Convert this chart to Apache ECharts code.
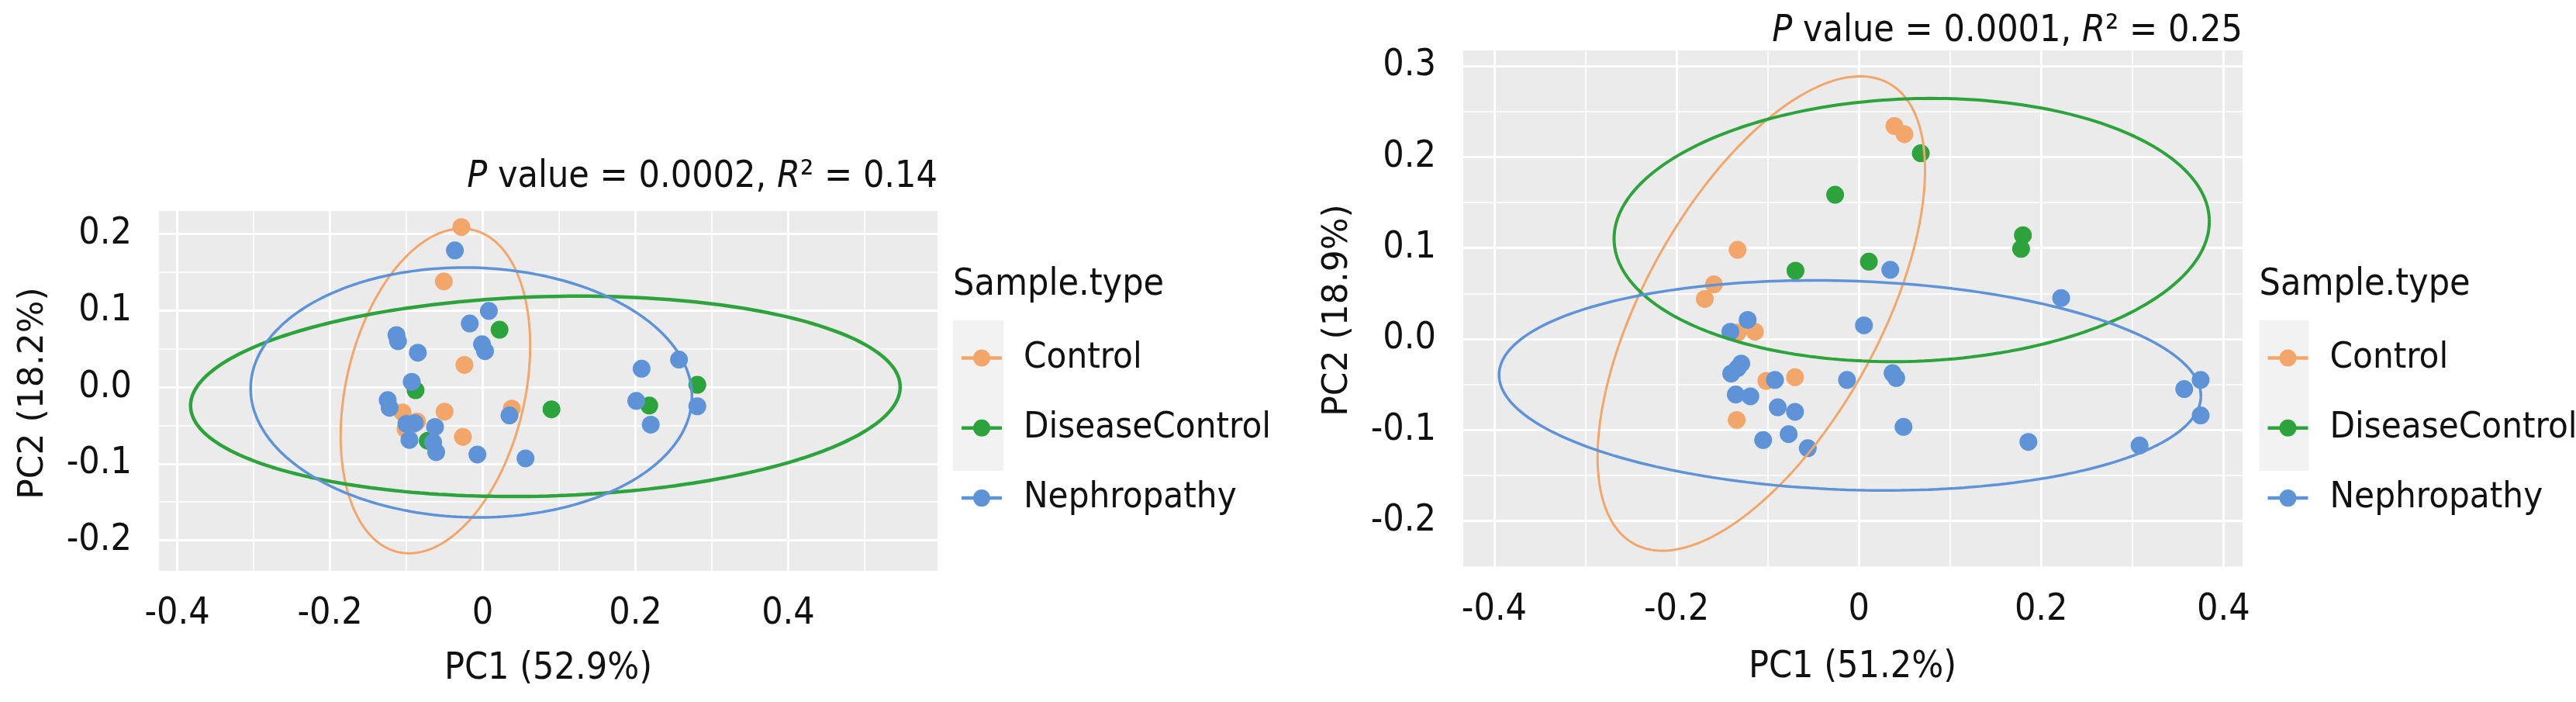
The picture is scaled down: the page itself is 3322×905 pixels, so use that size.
<!DOCTYPE html>
<html>
<head>
<meta charset="utf-8">
<script src="https://cdn.jsdelivr.net/npm/echarts@6/dist/echarts.min.js"></script>
<style>
  html, body { margin: 0; padding: 0; background: #fff; }
  #main { width: 3322px; height: 905px; }
</style>
</head>
<body>
<div id="main"></div>
<script>
// groups and colours
const groups = ['Control', 'DiseaseControl', 'Nephropathy']
const colors = ['#F3A66A', '#2CA33B', '#5E93D8']

// left panel points [PC1, PC2]
const leftControl = [[-0.028, 0.209], [-0.051, 0.138], [-0.024, 0.029], [-0.105, -0.033], [-0.050, -0.032],
  [-0.026, -0.065], [0.038, -0.028], [-0.086, -0.045], [-0.101, -0.055], [-0.094, -0.050]]
const leftDisease = [[0.022, 0.075], [-0.088, -0.004], [-0.072, -0.070], [0.090, -0.029], [0.281, 0.003], [0.218, -0.024]]
const leftNephro = [[-0.0365, 0.1785], [0.008, 0.0995], [-0.017, 0.083], [-0.113, 0.068], [-0.111, 0.060],
  [-0.001, 0.056], [0.003, 0.047], [-0.085, 0.045], [-0.093, 0.007], [-0.1245, -0.017], [-0.122, -0.027],
  [-0.100, -0.048], [-0.089, -0.047], [-0.0625, -0.052], [-0.096, -0.069], [-0.065, -0.072], [-0.061, -0.085],
  [-0.007, -0.088], [0.056, -0.093], [0.035, -0.037], [0.208, 0.024], [0.257, 0.036], [0.201, -0.018],
  [0.281, -0.025], [0.220, -0.049]]

// right panel points [PC1, PC2]
const rightControl = [[0.039, 0.234], [0.050, 0.225], [-0.133, 0.098], [-0.159, 0.060], [-0.169, 0.044],
  [-0.133, 0.007], [-0.114, 0.008], [-0.1015, -0.046], [-0.070, -0.042], [-0.134, -0.089]]
const rightDisease = [[0.068, 0.204], [-0.026, 0.1585], [0.011, 0.085], [-0.0695, 0.075], [0.180, 0.114], [0.178, 0.099]]
const rightNephro = [[0.0345, 0.076], [-0.122, 0.021], [-0.141, 0.008], [0.0056, 0.015], [-0.129, -0.027],
  [-0.133, -0.032], [-0.140, -0.038], [-0.092, -0.045], [-0.013, -0.045], [0.037, -0.0375], [0.041, -0.043],
  [-0.135, -0.061], [-0.119, -0.063], [-0.089, -0.075], [-0.070, -0.080], [0.049, -0.0965], [-0.105, -0.111],
  [-0.077, -0.1045], [-0.056, -0.120], [0.222, 0.045], [0.375, -0.045], [0.357, -0.055], [0.375, -0.084],
  [0.186, -0.113], [0.308, -0.117]]

// confidence ellipses: [cx, cy, semi-major, semi-minor, angle deg]
const leftEllipses = [[-0.062, -0.005, 0.216, 0.117, 76.85], [0.082, -0.012, 0.4648, 0.1302, 1.64], [-0.015, -0.007, 0.289, 0.163, -1.5]]
const rightEllipses = [[-0.107, 0.028, 0.289, 0.129, 61.1], [0.058, 0.1197, 0.3267, 0.1442, 2.07], [-0.0097, -0.051, 0.3852, 0.1147, -1.89]]

// axis ticks
const xMajor = [-0.4, -0.2, 0, 0.2, 0.4]
const leftXMinor = [-0.3, -0.1, 0.1, 0.3, 0.5]
const rightXMinor = [-0.3, -0.1, 0.1, 0.3]
const leftYMajor = [-0.2, -0.1, 0, 0.1, 0.2]
const leftYMinor = [-0.15, -0.05, 0.05, 0.15]
const rightYMajor = [-0.2, -0.1, 0, 0.1, 0.2, 0.3]
const rightYMinor = [-0.25, -0.15, -0.05, 0.05, 0.15, 0.25]

const titles = ['{i|P} value = 0.0002, {i|R}\u00b2 = 0.14', '{i|P} value = 0.0001, {i|R}\u00b2 = 0.25']
const xNames = ['PC1 (52.9%)', 'PC1 (51.2%)']
const yNames = ['PC2 (18.2%)', 'PC2 (18.9%)']
const legendTitle = 'Sample.type'

const cond = "'DejaVu Sans Condensed', 'Liberation Sans Narrow', sans-serif"
const wide = "'DejaVu Sans', sans-serif"

const chart = echarts.init(document.getElementById('main'), null, { renderer: 'canvas', devicePixelRatio: 1 })

// outline of an ellipse in data units
function ellipsePath(e) {
  const [cx, cy, a, b, deg] = e
  const t = deg * Math.PI / 180
  const pts = []
  for (let i = 0; i <= 240; i++) {
    const s = i / 240 * Math.PI * 2
    const u = a * Math.cos(s), v = b * Math.sin(s)
    pts.push([cx + u * Math.cos(t) - v * Math.sin(t), cy + u * Math.sin(t) + v * Math.cos(t)])
  }
  return pts
}

function axisX(idx, min, max) {
  return {
    type: 'value', gridIndex: idx, min: min, max: max,
    axisLine: { show: false },
    splitLine: { show: false },
    axisTick: { show: true, customValues: xMajor, length: 11, lineStyle: { color: '#333', width: 3 } },
    axisLabel: {
      customValues: xMajor, margin: 32, fontSize: 48, fontFamily: cond, color: '#111',
      formatter: v => (v === 0 ? '0' : String(v))
    }
  }
}

function axisY(idx, min, max, ticks) {
  return {
    type: 'value', gridIndex: idx, min: min, max: max,
    axisLine: { show: false },
    splitLine: { show: false },
    axisTick: { show: true, customValues: ticks, length: 11, lineStyle: { color: '#333', width: 3 } },
    axisLabel: {
      customValues: ticks, margin: 35, fontSize: 48, fontFamily: cond, color: '#111',
      formatter: v => v.toFixed(1)
    }
  }
}

// white panel grid drawn through the axes' own scales
function gridLines(idx, xMaj, xMin, yMaj, yMin) {
  const d = []
  xMaj.forEach(v => d.push({ xAxis: v, lineStyle: { width: 3 } }))
  xMin.forEach(v => d.push({ xAxis: v, lineStyle: { width: 1.6 } }))
  yMaj.forEach(v => d.push({ yAxis: v, lineStyle: { width: 3 } }))
  yMin.forEach(v => d.push({ yAxis: v, lineStyle: { width: 1.6 } }))
  return {
    name: 'grid' + idx, type: 'scatter', xAxisIndex: idx, yAxisIndex: idx, data: [], silent: true, z: 1,
    markLine: {
      silent: true, animation: false, symbol: ['none', 'none'], label: { show: false },
      emphasis: { disabled: true }, z: 1,
      lineStyle: { color: '#fff', type: 'solid' },
      data: d
    }
  }
}

const series = [
  gridLines(0, xMajor, leftXMinor, leftYMajor, leftYMinor),
  gridLines(1, xMajor, rightXMinor, rightYMajor, rightYMinor)
]

const panels = [[leftControl, leftDisease, leftNephro], [rightControl, rightDisease, rightNephro]]
const ellipses = [leftEllipses, rightEllipses]
const widths = [[3, 4.5, 3.5], [3, 4, 3.5]]

panels.forEach((pts, p) => {
  pts.forEach((data, g) => {
    series.push({
      name: groups[g], type: 'scatter', xAxisIndex: p, yAxisIndex: p, data: data,
      symbolSize: 23, itemStyle: { color: colors[g], opacity: 1 }, z: 3, silent: true
    })
  })
})
ellipses.forEach((list, p) => {
  list.forEach((e, g) => {
    series.push({
      name: groups[g], type: 'line', xAxisIndex: p, yAxisIndex: p, data: ellipsePath(e),
      showSymbol: false, symbol: 'none', smooth: false, silent: true, z: 4,
      itemStyle: { color: colors[g] },
      lineStyle: { color: colors[g], width: widths[p][g] }
    })
  })
})

// legend key: line stubs either side of a dot, no overlapping sub-paths
const keyIcon = 'path://M0,8.75h15.5v4.5h-15.5z M36.5,8.75h15.5v4.5h-15.5z M15,11a11,11 0 1,1 22,0a11,11 0 1,1 -22,0z'

function legendAt(left) {
  return {
    orient: 'vertical', left: left, top: 433, itemWidth: 52, itemHeight: 22, itemGap: 43.3,
    selectedMode: false, icon: keyIcon,
    data: groups.map(n => ({ name: n, icon: keyIcon })),
    textStyle: { fontSize: 47, fontFamily: cond, color: '#111', lineHeight: 22, padding: [0, 0, 0, 23] }
  }
}

function txt(x, y, text, opt) {
  return {
    type: 'text', x: x, y: y, silent: true, z: 10,
    style: Object.assign({ text: text, fill: '#111', fontSize: 48, fontFamily: cond, align: 'center', verticalAlign: 'middle' }, opt)
  }
}

const italic = { i: { fontStyle: 'italic', fontSize: 48, fontFamily: cond, fill: '#111' } }

const option = {
  animation: false,
  backgroundColor: '#fff',
  grid: [
    { left: 205, top: 272, width: 1004, height: 464, show: true, backgroundColor: '#EBEBEB', borderWidth: 0 },
    { left: 1887, top: 65, width: 1005, height: 666, show: true, backgroundColor: '#EBEBEB', borderWidth: 0 }
  ],
  xAxis: [axisX(0, -0.424, 0.5955), axisX(1, -0.434, 0.421)],
  yAxis: [axisY(0, -0.240, 0.230, leftYMajor), axisY(1, -0.2505, 0.317, rightYMajor)],
  legend: [legendAt(1235), legendAt(2919.5)],
  graphic: [
    // key backgrounds
    { type: 'rect', shape: { x: 1229, y: 413, width: 65, height: 194 }, style: { fill: '#F2F2F2' }, z: 0, silent: true },
    { type: 'rect', shape: { x: 2913.5, y: 413, width: 64, height: 194 }, style: { fill: '#F2F2F2' }, z: 0, silent: true },
    txt(1229, 368, legendTitle, { align: 'left' }),
    txt(2913.5, 368, legendTitle, { align: 'left' }),
    txt(1209, 229, titles[0], { align: 'right', rich: italic }),
    txt(2892, 41, titles[1], { align: 'right', rich: italic }),
    txt(707, 863, xNames[0]),
    txt(2389, 861, xNames[1]),
    Object.assign(txt(44, 507, yNames[0], { fontSize: 44, fontFamily: wide }), { rotation: Math.PI / 2 }),
    Object.assign(txt(1726, 400, yNames[1], { fontSize: 44, fontFamily: wide }), { rotation: Math.PI / 2 })
  ],
  series: series
}

chart.setOption(option)
</script>
</body>
</html>
